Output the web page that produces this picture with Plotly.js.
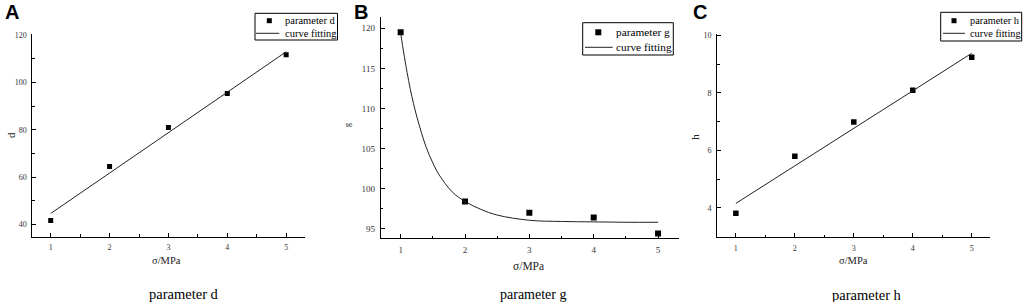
<!DOCTYPE html>
<html>
<head>
<meta charset="utf-8">
<script src="https://cdn.plot.ly/plotly-3.0.1.min.js"></script>
<style>html,body{margin:0;padding:0;background:#fff;}#chart{width:1024px;height:302px;}</style>
</head>
<body>
<div id="chart"></div>
<script>
// ---- data ----
const sigma = [1, 2, 3, 4, 5];
const xTickLabels = ['1', '2', '3', '4', '5'];

const paramD = [41.7, 64.5, 81.0, 95.3, 111.7];
const fitDx = [1, 5];
const fitDy = [44.7, 112.9];

const paramG = [119.5, 98.4, 97.0, 96.4, 94.4];
const fitGx = [1, 1.1, 1.2, 1.3, 1.4, 1.5, 1.6, 1.8, 2, 2.25, 2.5, 3, 3.5, 4, 4.5, 5];
const fitGy = [119.4, 114.5, 110.6, 107.6, 105.1, 103.2, 101.7, 99.6, 98.4, 97.4, 96.7, 96.05, 95.9, 95.85, 95.8, 95.8];

const paramH = [3.82, 5.80, 6.99, 8.09, 9.24];
const fitHx = [1, 5];
const fitHy = [4.16, 9.38];

const panelLetters = ['A', 'B', 'C'];
const seriesNames = ['parameter d', 'parameter g', 'parameter h'];
const yTitles = ['d', 'g', 'h'];
const xTitle = 'σ/MPa';
const fitName = 'curve fitting';

// ---- helpers (pixel -> paper) ----
const W = 1024, H = 302;
const px = x => x / W;
const py = y => 1 - y / H;
const SERIF = 'Liberation Serif, Times New Roman, serif';

function xAxis(dom, range, anchor, fs) {
  return {
    domain: [px(dom[0]), px(dom[1])], range: range, anchor: anchor,
    tickmode: 'array', tickvals: sigma, ticktext: xTickLabels,
    ticks: 'inside', ticklen: 4, tickwidth: 1, tickcolor: '#000',
    minor: {ticks: 'inside', ticklen: 2.5, dtick: 0.5, tick0: 0, tickcolor: '#000'},
    showline: true, linecolor: '#000', linewidth: 1,
    showgrid: false, zeroline: false,
    tickfont: {family: SERIF, size: fs, color: '#333'},
    ticklabelstandoff: 3
  };
}
function yAxis(dom, range, anchor, dtick, tick0, mdtick, fs) {
  return {
    domain: [py(dom[1]), py(dom[0])], range: range, anchor: anchor,
    dtick: dtick, tick0: tick0,
    ticks: 'inside', ticklen: 4, tickwidth: 1, tickcolor: '#000',
    minor: {ticks: 'inside', ticklen: 2.5, dtick: mdtick, tick0: tick0, tickcolor: '#000'},
    showline: true, linecolor: '#000', linewidth: 1,
    showgrid: false, zeroline: false,
    tickfont: {family: SERIF, size: fs, color: '#333'},
    ticklabelstandoff: 3
  };
}

const traces = [
  {x: sigma, y: paramD, xaxis: 'x', yaxis: 'y', mode: 'markers', name: seriesNames[0],
   marker: {symbol: 'square', size: 5, color: '#000'}},
  {x: fitDx, y: fitDy, xaxis: 'x', yaxis: 'y', mode: 'lines', name: fitName,
   line: {color: '#222', width: 1}},
  {x: sigma, y: paramG, xaxis: 'x2', yaxis: 'y2', mode: 'markers', name: seriesNames[1],
   marker: {symbol: 'square', size: 6, color: '#000'}},
  {x: fitGx, y: fitGy, xaxis: 'x2', yaxis: 'y2', mode: 'lines', name: fitName,
   line: {color: '#222', width: 1, shape: 'spline', smoothing: 1}},
  {x: sigma, y: paramH, xaxis: 'x3', yaxis: 'y3', mode: 'markers', name: seriesNames[2],
   marker: {symbol: 'square', size: 5.5, color: '#000'}},
  {x: fitHx, y: fitHy, xaxis: 'x3', yaxis: 'y3', mode: 'lines', name: fitName,
   line: {color: '#222', width: 1}}
];

// legends drawn as decoration (box, sample marker, sample line, text)
const legends = [
  {box: [255, 13.3, 337.5, 40], mk: [269.3, 20.7], ms: 5, ln: [256, 279.3, 33.3], tx: 282.7, ty: [20.7, 33.3], fs: 10.5, name: seriesNames[0]},
  {box: [582.7, 22.7, 673.3, 55], mk: [598.3, 32.3], ms: 6, ln: [585, 612.7, 47.3], tx: 614, ty: [32.3, 47.3], fs: 11.3, name: seriesNames[1]},
  {box: [940.7, 12.3, 1021.7, 41], mk: [954, 20.7], ms: 5, ln: [943, 965, 33.3], tx: 968.3, ty: [20.7, 33.3], fs: 10.3, name: seriesNames[2]}
];
const shapes = [];
const annotations = [];
legends.forEach(L => {
  shapes.push({type: 'rect', xref: 'paper', yref: 'paper',
    x0: px(L.box[0]), x1: px(L.box[2]), y0: py(L.box[3]), y1: py(L.box[1]),
    line: {color: '#000', width: 1}, fillcolor: 'rgba(0,0,0,0)'});
  shapes.push({type: 'rect', xref: 'paper', yref: 'paper',
    x0: px(L.mk[0] - L.ms / 2), x1: px(L.mk[0] + L.ms / 2), y0: py(L.mk[1] + L.ms / 2), y1: py(L.mk[1] - L.ms / 2),
    line: {width: 0}, fillcolor: '#000'});
  shapes.push({type: 'line', xref: 'paper', yref: 'paper',
    x0: px(L.ln[0]), x1: px(L.ln[1]), y0: py(L.ln[2]), y1: py(L.ln[2]),
    line: {color: '#222', width: 1}});
  annotations.push({xref: 'paper', yref: 'paper', x: px(L.tx), y: py(L.ty[0]), xanchor: 'left', yanchor: 'middle',
    text: L.name, showarrow: false, font: {family: SERIF, size: L.fs, color: '#000'}});
  annotations.push({xref: 'paper', yref: 'paper', x: px(L.tx), y: py(L.ty[1]), xanchor: 'left', yanchor: 'middle',
    text: fitName, showarrow: false, font: {family: SERIF, size: L.fs, color: '#000'}});
});

// panel letters
[[3, 12], [352, 12], [691, 12]].forEach((p, i) => {
  annotations.push({xref: 'paper', yref: 'paper', x: px(p[0]), y: py(p[1]), xanchor: 'left', yanchor: 'middle',
    text: '<b>' + panelLetters[i] + '</b>', showarrow: false,
    font: {family: 'Liberation Sans, Arial, sans-serif', size: 20, color: '#000'}});
});
// x axis titles
[[166.7, 260, 10.5], [528.3, 265.5, 11.5], [853.3, 260, 10.5]].forEach(p => {
  annotations.push({xref: 'paper', yref: 'paper', x: px(p[0]), y: py(p[1]), xanchor: 'center', yanchor: 'middle',
    text: xTitle, showarrow: false, font: {family: SERIF, size: p[2], color: '#222'}});
});
// y axis titles
[[11, 135, 11], [347, 125, 8], [695, 136.7, 11]].forEach((p, i) => {
  annotations.push({xref: 'paper', yref: 'paper', x: px(p[0]), y: py(p[1]), xanchor: 'center', yanchor: 'middle',
    text: yTitles[i], textangle: -90, showarrow: false, font: {family: SERIF, size: p[2], color: '#222'}});
});
// bottom captions
[[184, 294, 14.5], [533, 294, 14], [866.7, 295, 14.5]].forEach((p, i) => {
  annotations.push({xref: 'paper', yref: 'paper', x: px(p[0]), y: py(p[1]), xanchor: 'center', yanchor: 'middle',
    text: seriesNames[i], showarrow: false, font: {family: SERIF, size: p[2], color: '#000'}});
});

const layout = {
  width: W, height: H,
  margin: {l: 0, r: 0, t: 0, b: 0, pad: 0},
  paper_bgcolor: '#fff', plot_bgcolor: '#fff',
  showlegend: false,
  xaxis: xAxis([32.3, 305], [0.687, 5.32], 'y', 8),
  yaxis: yAxis([34, 236.7], [34.9, 120.4], 'x', 20, 40, 10, 8),
  xaxis2: xAxis([380.7, 679.3], [0.69, 5.33], 'y2', 9),
  yaxis2: yAxis([16.7, 238.3], [93.8, 121.45], 'x2', 5, 95, 2.5, 9),
  xaxis3: xAxis([717, 990], [0.68, 5.31], 'y3', 8),
  yaxis3: yAxis([34, 237.3], [2.98, 10.05], 'x3', 2, 4, 1, 8),
  shapes: shapes,
  annotations: annotations
};

Plotly.newPlot('chart', traces, layout, {displayModeBar: false, staticPlot: true});
</script>
</body>
</html>
